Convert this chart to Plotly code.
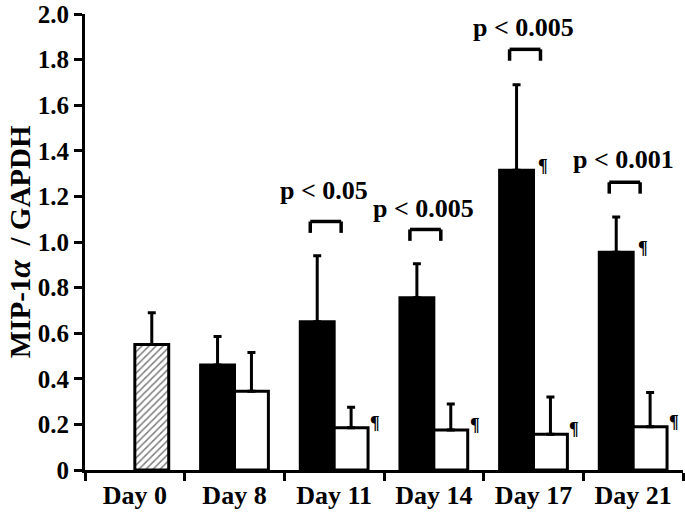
import plotly.graph_objects as go

days = ["Day 0", "Day 8", "Day 11", "Day 14", "Day 17", "Day 21"]
black_vals = [None, 0.46, 0.65, 0.755, 1.315, 0.955]
black_err = [0, 0.125, 0.29, 0.15, 0.375, 0.155]
white_vals = [0.55, 0.345, 0.185, 0.175, 0.157, 0.19]
white_err = [0.14, 0.17, 0.09, 0.115, 0.163, 0.15]
white_pattern = ["/", "", "", "", "", ""]

p_labels = ["p < 0.05", "p < 0.005", "p < 0.005", "p < 0.001"]
p_days = [2, 3, 4, 5]
p_label_y = [1.228, 1.149, 1.94, 1.36]
bracket_y = [1.09, 1.055, 1.845, 1.262]

pilcrow_white_days = [2, 3, 4, 5]
pilcrow_black_days = [4, 5]

yticks = [0, 0.2, 0.4, 0.6, 0.8, 1.0, 1.2, 1.4, 1.6, 1.8, 2.0]
ytick_text = ["0", "0.2", "0.4", "0.6", "0.8", "1.0", "1.2", "1.4", "1.6", "1.8", "2.0"]

FONT = "Liberation Serif"

fig = go.Figure()
fig.add_trace(go.Bar(
    x=days, y=black_vals, name="black",
    marker=dict(color="black", line=dict(color="black", width=3)),
    error_y=dict(type="data", array=black_err, arrayminus=[0] * 6, symmetric=False,
                 color="black", thickness=3, width=4),
))
fig.add_trace(go.Bar(
    x=days, y=white_vals, name="white",
    marker=dict(color="white", line=dict(color="black", width=3),
                pattern=dict(shape=white_pattern, fgcolor="black", bgcolor="white",
                             size=5, solidity=0.3)),
    error_y=dict(type="data", array=white_err, arrayminus=[0] * 6, symmetric=False,
                 color="black", thickness=3, width=4),
))

shapes = []
for d, by in zip(p_days, bracket_y):
    x0, x1 = d - 0.24, d + 0.07
    ln = dict(color="black", width=3.5)
    shapes.append(dict(type="line", xref="x", yref="y", x0=x0, x1=x1, y0=by, y1=by, line=ln))
    shapes.append(dict(type="line", xref="x", yref="y", x0=x0, x1=x0, y0=by, y1=by - 0.05, line=ln))
    shapes.append(dict(type="line", xref="x", yref="y", x0=x1, x1=x1, y0=by, y1=by - 0.05, line=ln))

annotations = []
for lab, d, ly in zip(p_labels, p_days, p_label_y):
    annotations.append(dict(x=d - 0.1, y=ly, xref="x", yref="y", text=lab, showarrow=False,
                            xanchor="center", yanchor="middle",
                            font=dict(family=FONT, size=26, color="black", weight="bold")))
for d in pilcrow_white_days:
    annotations.append(dict(x=d + 0.34, y=white_vals[d], xref="x", yref="y", text="¶",
                            showarrow=False, xanchor="left", yanchor="middle", yshift=5,
                            font=dict(family=FONT, size=18, color="black", weight="bold")))
for d in pilcrow_black_days:
    annotations.append(dict(x=d + 0.03, y=black_vals[d], xref="x", yref="y", text="¶",
                            showarrow=False, xanchor="left", yanchor="middle", yshift=4,
                            font=dict(family=FONT, size=18, color="black", weight="bold")))
annotations.append(dict(x=-0.110, y=0.5, xref="paper", yref="paper",
                        text="MIP-1<i><span style='font-size:32px'>α</span></i>\u00a0\u00a0/\u00a0GAPDH",
                        textangle=-90, showarrow=False,
                        xanchor="center", yanchor="middle",
                        font=dict(family=FONT, size=29, color="black", weight="bold")))

fig.update_layout(
    width=685, height=516,
    margin=dict(l=85, r=2, t=14, b=46),
    paper_bgcolor="white", plot_bgcolor="white",
    barmode="group", bargap=0.32, bargroupgap=0,
    showlegend=False,
    shapes=shapes, annotations=annotations,
)
fig.update_xaxes(
    type="category", tickson="boundaries", ticks="outside", ticklen=8, tickwidth=3,
    tickcolor="black", showline=True, linecolor="black", linewidth=3,
    showgrid=False, zeroline=False,
    tickfont=dict(family=FONT, size=26, color="black", weight="bold"),
)
fig.update_yaxes(
    range=[0, 2.0], tickvals=yticks, ticktext=ytick_text, ticks="outside", ticklen=8,
    tickwidth=3, tickcolor="black", showline=True, linecolor="black", linewidth=3,
    showgrid=False, zeroline=False,
    tickfont=dict(family=FONT, size=25, color="black", weight="bold"),
)

fig.write_html("out.html", config={"displayModeBar": False},
               post_script="document.body.style.margin='0';")
